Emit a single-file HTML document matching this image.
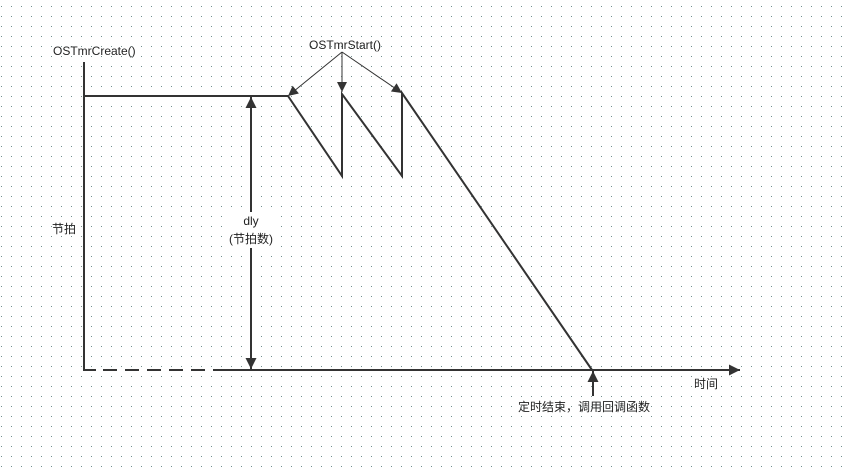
<!DOCTYPE html>
<html><head><meta charset="utf-8"><style>
html,body{margin:0;padding:0;background:#fff}
svg{display:block}
text{font-family:"Liberation Sans","Noto Sans CJK SC",sans-serif;font-size:12px;fill:#222}
</style></head><body>
<svg width="848" height="474" viewBox="0 0 848 474" xmlns="http://www.w3.org/2000/svg">
<defs>
<pattern id="dots" x="1" y="6" width="10" height="10" patternUnits="userSpaceOnUse">
<rect x="0" y="0" width="1" height="1" fill="#6f9090"/>
</pattern>
<marker id="ah" viewBox="0 0 10 10" refX="10" refY="5" markerWidth="13" markerHeight="11" orient="auto-start-reverse" markerUnits="userSpaceOnUse">
<path d="M0,0 L10,5 L0,10 z" fill="#333"/>
</marker>
<marker id="ahs" viewBox="0 0 10 10" refX="10" refY="5" markerWidth="11" markerHeight="10" orient="auto" markerUnits="userSpaceOnUse">
<path d="M0,0 L10,5 L0,10 z" fill="#333"/>
</marker>
</defs>
<rect width="848" height="474" fill="url(#dots)"/>
<g stroke="#333" stroke-width="2" fill="none">
<line x1="84" y1="62" x2="84" y2="371"/>
<line x1="83" y1="370" x2="96" y2="370"/>
<line x1="103" y1="370" x2="225" y2="370" stroke-dasharray="14,8"/>
<line x1="225" y1="370" x2="740" y2="370" marker-end="url(#ah)"/>
<line x1="84" y1="96" x2="288" y2="96"/>
<polyline points="288,96 342,176 342,94 402,176 402,93 592,370"/>
<line x1="251" y1="97" x2="251" y2="369" marker-start="url(#ah)" marker-end="url(#ah)"/>
<line x1="593" y1="396" x2="593" y2="371" marker-end="url(#ah)"/>
</g>
<g stroke="#333" stroke-width="1" fill="none">
<line x1="342" y1="52" x2="288" y2="96" marker-end="url(#ahs)"/>
<line x1="342" y1="52" x2="342" y2="92" marker-end="url(#ahs)"/>
<line x1="342" y1="52" x2="402" y2="93" marker-end="url(#ahs)"/>
</g>
<rect x="226" y="212" width="50" height="36" fill="#fff"/>
<text x="53" y="55">OSTmrCreate()</text>
<text x="309" y="49">OSTmrStart()</text>
<text x="52" y="233">节拍</text>
<text x="251" y="225" text-anchor="middle">dly</text>
<text x="251" y="243" text-anchor="middle">(节拍数)</text>
<text x="694" y="388">时间</text>
<text x="518" y="411">定时结束，调用回调函数</text>
</svg>
</body></html>
